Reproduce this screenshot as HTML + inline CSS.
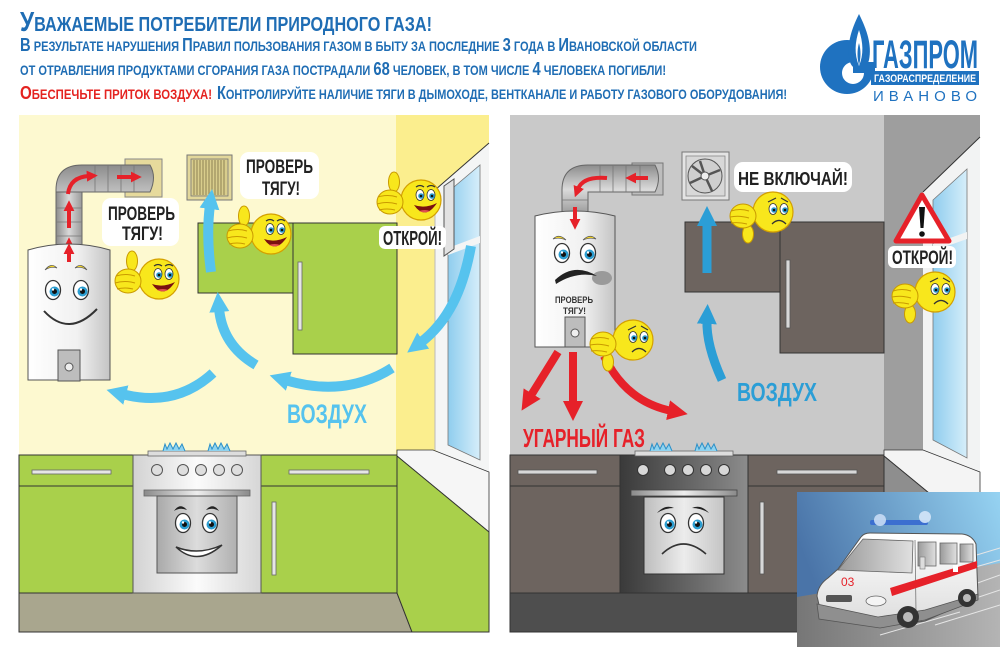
<!DOCTYPE html>
<html><head><meta charset="utf-8"><style>
html,body{margin:0;padding:0;background:#fff;}
svg{display:block;}
text{font-family:"Liberation Sans Narrow","Liberation Sans","DejaVu Sans",sans-serif;font-weight:bold;}
</style></head><body>
<svg width="1000" height="647" viewBox="0 0 1000 647" xmlns="http://www.w3.org/2000/svg">
<defs>
<linearGradient id="gBoil" x1="0" x2="1" y1="0" y2="0"><stop offset="0" stop-color="#fff"/><stop offset="0.6" stop-color="#f1f1f1"/><stop offset="1" stop-color="#c4c4c4"/></linearGradient>
<linearGradient id="gPipeV" x1="0" x2="1"><stop offset="0" stop-color="#8c8c8c"/><stop offset="0.5" stop-color="#d9d9d9"/><stop offset="1" stop-color="#9a9a9a"/></linearGradient>
<linearGradient id="gPipeH" x1="0" x2="0" y1="0" y2="1"><stop offset="0" stop-color="#8c8c8c"/><stop offset="0.5" stop-color="#dadada"/><stop offset="1" stop-color="#9a9a9a"/></linearGradient>
<linearGradient id="gStoveL" x1="0" x2="1"><stop offset="0" stop-color="#d2d2d2"/><stop offset="0.5" stop-color="#fbfbfb"/><stop offset="1" stop-color="#d6d6d6"/></linearGradient>
<linearGradient id="gStoveR" x1="0" x2="1"><stop offset="0" stop-color="#3a3a3a"/><stop offset="0.6" stop-color="#6a6a6a"/><stop offset="1" stop-color="#8c8c8c"/></linearGradient>
<linearGradient id="gDoorL" x1="0" x2="1"><stop offset="0" stop-color="#a9a9a9"/><stop offset="0.5" stop-color="#dcdcdc"/><stop offset="1" stop-color="#b0b0b0"/></linearGradient>
<linearGradient id="gDoorR" x1="0" x2="1"><stop offset="0" stop-color="#bdbdbd"/><stop offset="0.5" stop-color="#ececec"/><stop offset="1" stop-color="#c4c4c4"/></linearGradient>
<linearGradient id="gBar" x1="0" x2="1"><stop offset="0" stop-color="#8a8a8a"/><stop offset="0.5" stop-color="#eeeeee"/><stop offset="1" stop-color="#8a8a8a"/></linearGradient>
<linearGradient id="gGlass" x1="0" x2="1"><stop offset="0" stop-color="#8fcdee"/><stop offset="1" stop-color="#d6eefa"/></linearGradient>
<linearGradient id="gSky" x1="0" x2="1" y1="0.3" y2="0"><stop offset="0" stop-color="#4a74a8"/><stop offset="1" stop-color="#96d3f2"/></linearGradient>
<linearGradient id="gRoad" x1="0" x2="1"><stop offset="0" stop-color="#767676"/><stop offset="1" stop-color="#b4b4b4"/></linearGradient>
<linearGradient id="gVan" x1="0" x2="0" y1="0" y2="1"><stop offset="0" stop-color="#ffffff"/><stop offset="1" stop-color="#dcdcdc"/></linearGradient>
<linearGradient id="gWin" x1="0" x2="1"><stop offset="0" stop-color="#9a9a9a"/><stop offset="1" stop-color="#e0e0e0"/></linearGradient>

<marker id="mbL" viewBox="0 0 10 10" refX="2" refY="5" markerWidth="20" markerHeight="22" markerUnits="userSpaceOnUse" orient="auto"><path d="M0,0 L10,5 L0,10 z" fill="#56c3ee"/></marker>
<marker id="mbD" viewBox="0 0 10 10" refX="2" refY="5" markerWidth="20" markerHeight="22" markerUnits="userSpaceOnUse" orient="auto"><path d="M0,0 L10,5 L0,10 z" fill="#2b9ed6"/></marker>
<marker id="mR" viewBox="0 0 10 10" refX="2" refY="5" markerWidth="20" markerHeight="22" markerUnits="userSpaceOnUse" orient="auto"><path d="M0,0 L10,5 L0,10 z" fill="#e62129"/></marker>
<marker id="mRs" viewBox="0 0 10 10" refX="2" refY="5" markerWidth="11" markerHeight="12" markerUnits="userSpaceOnUse" orient="auto"><path d="M0,0 L10,5 L0,10 z" fill="#e62129"/></marker>

<g id="eye"><ellipse rx="7.5" ry="9.5" fill="#fff" stroke="#333" stroke-width="1.3"/><circle cx="1.5" cy="1.5" r="5" fill="#2b9dd0"/><circle cx="1.5" cy="1.5" r="2.5" fill="#111"/><circle cx="0" cy="-0.5" r="1.2" fill="#fff"/></g>
<g id="seye"><ellipse rx="4" ry="5.5" fill="#fff" stroke="#333" stroke-width="0.8"/><circle cx="1" cy="1" r="2.8" fill="#2b9dd0"/><circle cx="1" cy="1" r="1.3" fill="#111"/></g>

<g id="hs">
<circle r="20" fill="#f8e71c" stroke="#d4a000" stroke-width="1.2"/>
<use href="#seye" x="-1" y="-5"/><use href="#seye" x="10" y="-5"/>
<path d="M-5 -13 Q-1 -16 3 -13 M6 -13 Q10 -16 14 -13" stroke="#333" stroke-width="1.2" fill="none"/>
<path d="M-7 5 Q4 21 16 3 Q4 9 -7 5 Z" fill="#7a1010"/>
<path d="M-2 11 Q4 14 9 11 Q4 9 -2 11Z" fill="#e05050"/>
<ellipse cx="-27" cy="-18" rx="5.5" ry="10" fill="#f8e71c" stroke="#c99a00" stroke-width="1"/>
<ellipse cx="-31" cy="2" rx="13" ry="12" fill="#f8e71c" stroke="#c99a00" stroke-width="1"/>
<path d="M-43 -3 Q-33 -6 -24 -3 M-44 4 Q-34 1 -24 4 M-42 10 Q-34 8 -26 10" stroke="#c99a00" stroke-width="1" fill="none"/>
</g>
<g id="ss">
<circle r="20" fill="#f8e71c" stroke="#d4a000" stroke-width="1.2"/>
<use href="#seye" x="0" y="-3"/><use href="#seye" x="11" y="-3"/>
<path d="M-5 -10 L3 -14 M8 -14 L15 -10" stroke="#333" stroke-width="1.2" fill="none"/>
<path d="M-1 12 Q6 5 13 12" stroke="#333" stroke-width="1.3" fill="none"/>
<ellipse cx="-25" cy="22" rx="5.5" ry="9" fill="#f8e71c" stroke="#c99a00" stroke-width="1"/>
<ellipse cx="-30" cy="4" rx="13" ry="12" fill="#f8e71c" stroke="#c99a00" stroke-width="1"/>
<path d="M-42 -1 Q-33 -4 -24 -1 M-43 5 Q-34 3 -24 6 M-42 11 Q-34 10 -26 12" stroke="#c99a00" stroke-width="1" fill="none"/>
</g>
</defs>

<rect width="1000" height="647" fill="#fff"/>

<!-- HEADER -->
<text x="20" y="31" textLength="412" lengthAdjust="spacingAndGlyphs" fill="#1f6db4"><tspan font-size="28">У</tspan><tspan font-size="20">ВАЖАЕМЫЕ ПОТРЕБИТЕЛИ ПРИРОДНОГО ГАЗА!</tspan></text>
<text x="20" y="51" textLength="677" lengthAdjust="spacingAndGlyphs" fill="#1f6db4"><tspan font-size="18">В</tspan><tspan font-size="13.5"> РЕЗУЛЬТАТЕ НАРУШЕНИЯ </tspan><tspan font-size="18">П</tspan><tspan font-size="13.5">РАВИЛ ПОЛЬЗОВАНИЯ ГАЗОМ В БЫТУ ЗА ПОСЛЕДНИЕ </tspan><tspan font-size="18">3</tspan><tspan font-size="13.5"> ГОДА В </tspan><tspan font-size="18">И</tspan><tspan font-size="13.5">ВАНОВСКОЙ ОБЛАСТИ</tspan></text>
<text x="20" y="75" textLength="646" lengthAdjust="spacingAndGlyphs" fill="#1f6db4"><tspan font-size="13.5">ОТ ОТРАВЛЕНИЯ ПРОДУКТАМИ СГОРАНИЯ ГАЗА ПОСТРАДАЛИ </tspan><tspan font-size="18">68</tspan><tspan font-size="13.5"> ЧЕЛОВЕК, В ТОМ ЧИСЛЕ </tspan><tspan font-size="18">4</tspan><tspan font-size="13.5"> ЧЕЛОВЕКА ПОГИБЛИ!</tspan></text>
<text x="20" y="99" textLength="192" lengthAdjust="spacingAndGlyphs" fill="#e42320"><tspan font-size="18">О</tspan><tspan font-size="13.5">БЕСПЕЧЬТЕ ПРИТОК ВОЗДУХА!</tspan></text>
<text x="217" y="99" textLength="570" lengthAdjust="spacingAndGlyphs" fill="#1f6db4"><tspan font-size="18">К</tspan><tspan font-size="13.5">ОНТРОЛИРУЙТЕ НАЛИЧИЕ ТЯГИ В ДЫМОХОДЕ, ВЕНТКАНАЛЕ И РАБОТУ ГАЗОВОГО ОБОРУДОВАНИЯ!</tspan></text>

<!-- LOGO -->
<circle cx="847" cy="67" r="27" fill="#1f72c0"/>
<rect x="858" y="36" width="16" height="28" fill="#fff"/>
<circle cx="853" cy="73" r="11" fill="#fff"/>
<rect x="853" y="62" width="22" height="11" fill="#1f72c0"/>
<path d="M859 14 C851 30 846 46 850 62 C853 72 866 72 869 60 C872 45 867 30 859 14 Z" fill="#1f72c0"/>
<path d="M859 30 C855 42 854 54 859 66 C864 54 863 42 859 30 Z" fill="#fff"/>
<path d="M859 43 C857 50 857 58 859 65 C861 58 861 50 859 43 Z" fill="#1f72c0"/>
<text x="872" y="68" font-size="40" textLength="106" lengthAdjust="spacingAndGlyphs" fill="#1f72c0">ГАЗПРОМ</text>
<rect x="871" y="71" width="108" height="14" fill="#1f72c0"/>
<text x="874" y="82" font-size="11" textLength="102" lengthAdjust="spacingAndGlyphs" fill="#fff">ГАЗОРАСПРЕДЕЛЕНИЕ</text>
<text x="873" y="101" font-size="15" style="font-weight:normal" textLength="104" lengthAdjust="spacing" fill="#1f72c0">ИВАНОВО</text>

<!-- ============ LEFT PANEL ============ -->
<rect x="19" y="115" width="470" height="517" fill="#fdf9d0"/>
<rect x="396" y="115" width="93" height="340" fill="#fbee8e"/>
<polygon points="489,143 435,190 435,450 489,478" fill="#f4f5f5"/>
<line x1="489" y1="143" x2="435" y2="190" stroke="#333" stroke-width="1"/>
<line x1="435" y1="190" x2="435" y2="450" stroke="#bbb" stroke-width="1"/>
<polygon points="448,192 480,165 480,460 448,445" fill="url(#gGlass)" stroke="#777" stroke-width="0.8"/>
<polygon points="448,248 480,236 480,243 448,255" fill="#f4f5f5"/>
<polygon points="444,186 454,179 454,249 444,256" fill="#e2e2e2" stroke="#555" stroke-width="1"/>

<!-- pipe left -->
<rect x="125" y="159" width="37" height="38" fill="#e6da9c" stroke="#888" stroke-width="1"/>
<path d="M56 246 L56 190 Q56 165 82 165 L150 165 Q157 177 150 192 L82 192 L82 246 Z" fill="url(#gPipeH)" stroke="#666" stroke-width="1"/>
<rect x="56" y="192" width="26" height="54" fill="url(#gPipeV)" stroke="#666" stroke-width="1"/>
<path d="M95 165 V192 M108 165 V192 M121 165 V192 M134 165 V192 M56 208 H82 M56 222 H82 M56 236 H82" stroke="#777" stroke-width="0.8"/>
<path d="M69 258 L69 246" stroke="#e62129" stroke-width="4" marker-end="url(#mRs)"/>
<path d="M69 228 L69 209" stroke="#e62129" stroke-width="4" marker-end="url(#mRs)"/>
<path d="M68 194 Q70 177 89 176" stroke="#e62129" stroke-width="4" fill="none" marker-end="url(#mRs)"/>
<path d="M117 177 L133 177" stroke="#e62129" stroke-width="4" marker-end="url(#mRs)"/>

<!-- boiler left -->
<path d="M28 250 Q69 238 110 250 L110 380 L28 380 Z" fill="url(#gBoil)" stroke="#555" stroke-width="1"/>
<path d="M69 262 L69 252" stroke="#e62129" stroke-width="4" marker-end="url(#mRs)"/>
<rect x="58" y="350" width="22" height="31" fill="#bdbdbd" stroke="#555" stroke-width="1"/>
<circle cx="69" cy="367" r="4" fill="#eee" stroke="#555"/>
<path d="M45 270 Q51 262 57 268 Q51 266 45 270Z M75 268 Q81 262 87 270 Q81 266 75 268Z" fill="#f3d52a" stroke="#555" stroke-width="0.7"/>
<use href="#eye" x="53" y="290"/><use href="#eye" x="81" y="290"/>
<path d="M44 311 Q69 338 97 309" stroke="#333" stroke-width="2" fill="none"/>

<!-- vent grille -->
<rect x="187" y="155" width="45" height="45" fill="#e2d79a" stroke="#777" stroke-width="1"/>
<rect x="191" y="159" width="37" height="37" fill="#d9cd8c" stroke="#777" stroke-width="0.8"/>
<path d="M194 160V195 M197 160V195 M200 160V195 M203 160V195 M206 160V195 M209 160V195 M212 160V195 M215 160V195 M218 160V195 M221 160V195 M224 160V195" stroke="#7a6f45" stroke-width="0.8"/>

<!-- upper cabinets -->
<rect x="198" y="223" width="95" height="70" fill="#a9d04b" stroke="#333" stroke-width="1"/>
<rect x="293" y="223" width="104" height="131" fill="#a9d04b" stroke="#333" stroke-width="1"/>
<rect x="298" y="262" width="4" height="68" fill="#e6e6e6" stroke="#666" stroke-width="0.8"/>

<!-- lower left -->
<rect x="19" y="455" width="114" height="138" fill="#a9d04b" stroke="#333" stroke-width="1"/>
<line x1="19" y1="486" x2="133" y2="486" stroke="#333"/>
<rect x="32" y="470" width="79" height="4" fill="#e6e6e6" stroke="#666" stroke-width="0.8"/>
<rect x="261" y="455" width="136" height="138" fill="#a9d04b" stroke="#333" stroke-width="1"/>
<line x1="261" y1="486" x2="397" y2="486" stroke="#333"/>
<rect x="289" y="470" width="80" height="4" fill="#e6e6e6" stroke="#666" stroke-width="0.8"/>
<rect x="272" y="502" width="4" height="73" fill="#e6e6e6" stroke="#666" stroke-width="0.8"/>
<polygon points="19,593 397,593 412,632 19,632" fill="#a9a68e" stroke="#333" stroke-width="1"/>
<polygon points="397,450 433,450 489,472 489,532 397,456" fill="#f6f6f6" stroke="#333" stroke-width="0.8"/>
<polygon points="397,456 489,532 489,632 412,632 397,593" fill="#a9d04b" stroke="#333" stroke-width="1"/>

<!-- stove left -->
<rect x="133" y="455" width="128" height="138" fill="url(#gStoveL)" stroke="#555" stroke-width="1"/>
<rect x="148" y="451" width="98" height="5" fill="#ddd" stroke="#666" stroke-width="0.8"/>
<polyline points="163,451 165,444 167,449 170,443 173,449 176,443 179,449 182,444 185,451" fill="#8fd3ef" stroke="#2a8fc8" stroke-width="1"/>
<polyline points="208,451 210,444 212,449 215,443 218,449 221,443 224,449 227,444 230,451" fill="#8fd3ef" stroke="#2a8fc8" stroke-width="1"/>
<g fill="#dedede" stroke="#555" stroke-width="1"><circle cx="157" cy="470" r="5.5"/><circle cx="183" cy="470" r="5.5"/><circle cx="201" cy="470" r="5.5"/><circle cx="219" cy="470" r="5.5"/><circle cx="237" cy="470" r="5.5"/></g>
<rect x="144" y="490" width="106" height="6" fill="url(#gBar)" stroke="#666" stroke-width="0.8"/>
<rect x="157" y="496" width="80" height="77" fill="url(#gDoorL)" stroke="#555" stroke-width="1"/>
<path d="M174 511 Q180 502 187 510 Q180 507 174 511Z M206 510 Q213 502 219 511 Q213 507 206 510Z" fill="#222"/>
<use href="#eye" x="183" y="523"/><use href="#eye" x="210" y="523"/>
<path d="M176 547 Q197 567 222 545 Q198 556 176 547Z" fill="#fff" stroke="#333" stroke-width="1.5"/>

<!-- blue arrows left -->
<g fill="none" stroke="#56c3ee" stroke-width="10">
<path d="M471 246 C463 290 448 322 420 343" marker-end="url(#mbL)"/>
<path d="M392 368 Q345 398 285 380" marker-end="url(#mbL)"/>
<path d="M256 365 Q222 345 219 308" marker-end="url(#mbL)"/>
<path d="M211 272 Q206 235 210 205" marker-end="url(#mbL)"/>
<path d="M213 373 Q175 408 122 394" marker-end="url(#mbL)"/>
</g>
<text x="287" y="423" font-size="27" textLength="80" lengthAdjust="spacingAndGlyphs" fill="#56c3ee">ВОЗДУХ</text>

<!-- bubbles left -->
<rect x="102" y="198" width="77" height="48" rx="9" fill="#fff"/>
<text x="108" y="220" font-size="19" textLength="67" lengthAdjust="spacingAndGlyphs" fill="#222">ПРОВЕРЬ</text>
<text x="122" y="240" font-size="19" textLength="41" lengthAdjust="spacingAndGlyphs" fill="#222">ТЯГУ!</text>
<rect x="240" y="152" width="79" height="47" rx="9" fill="#fff"/>
<text x="246" y="173" font-size="19" textLength="67" lengthAdjust="spacingAndGlyphs" fill="#222">ПРОВЕРЬ</text>
<text x="262" y="195" font-size="19" textLength="38" lengthAdjust="spacingAndGlyphs" fill="#222">ТЯГУ!</text>
<rect x="379" y="226" width="67" height="23" rx="6" fill="#fff"/>
<text x="383" y="245" font-size="20" textLength="59" lengthAdjust="spacingAndGlyphs" fill="#222">ОТКРОЙ!</text>

<use href="#hs" x="159" y="279"/>
<use href="#hs" x="271" y="234"/>
<use href="#hs" x="421" y="200"/>

<!-- ============ RIGHT PANEL ============ -->
<rect x="510" y="115" width="470" height="517" fill="#c9c9c9"/>
<rect x="884" y="115" width="96" height="340" fill="#9e9e9e"/>
<polygon points="980,137 923,192 923,452 980,478" fill="#f2f3f3"/>
<line x1="980" y1="137" x2="923" y2="192" stroke="#333" stroke-width="1"/>
<polygon points="933,200 967,169 967,458 933,440" fill="url(#gGlass)" stroke="#777" stroke-width="0.8"/>
<polygon points="933,244 967,232 967,239 933,251" fill="#f2f3f3"/>

<!-- pipe right -->
<rect x="632" y="163" width="31" height="32" fill="#bdbdbd" stroke="#777" stroke-width="1"/>
<path d="M562 214 L562 190 Q562 165 588 165 L655 165 Q662 178 655 192 L588 192 L588 214 Z" fill="url(#gPipeH)" stroke="#666" stroke-width="1"/>
<path d="M600 165 V192 M613 165 V192 M626 165 V192 M640 165 V192 M562 200 H588" stroke="#777" stroke-width="0.8"/>
<path d="M648 178 L634 178" stroke="#e62129" stroke-width="4" marker-end="url(#mRs)"/>
<path d="M607 178 Q583 176 578 189" stroke="#e62129" stroke-width="4" fill="none" marker-end="url(#mRs)"/>

<!-- boiler right -->
<path d="M535 216 Q575 206 615 216 L615 347 L535 347 Z" fill="url(#gBoil)" stroke="#555" stroke-width="1"/>
<path d="M575 207 L575 221" stroke="#e62129" stroke-width="4" marker-end="url(#mRs)"/>
<rect x="565" y="317" width="20" height="30" fill="#bdbdbd" stroke="#555" stroke-width="1"/>
<circle cx="575" cy="333" r="4" fill="#eee" stroke="#555"/>
<path d="M553 239 Q559 233 566 240 Q559 237 553 239Z M583 240 Q590 233 596 239 Q590 237 583 240Z" fill="#f3d52a" stroke="#555" stroke-width="0.7"/>
<use href="#eye" x="562" y="253"/><use href="#eye" x="588" y="253"/>
<ellipse cx="602" cy="278" rx="10" ry="7" fill="#9a9a9a"/>
<path d="M555 280 Q574 262 597 276 Q576 271 556 284 Z" fill="#222"/>
<text x="555" y="303" font-size="9" textLength="38" lengthAdjust="spacingAndGlyphs" fill="#333">ПРОВЕРЬ</text>
<text x="563" y="314" font-size="9" textLength="23" lengthAdjust="spacingAndGlyphs" fill="#333">ТЯГУ!</text>

<!-- fan -->
<rect x="682" y="152" width="47" height="48" fill="#e4e4e4" stroke="#777" stroke-width="1"/>
<rect x="686" y="156" width="39" height="40" fill="#d8d8d8" stroke="#888" stroke-width="0.8"/>
<circle cx="705" cy="176" r="17" fill="#cfcfcf" stroke="#555" stroke-width="1"/>
<path d="M705 176 L700 161 M705 176 L720 170 M705 176 L712 191 M705 176 L690 183 M705 176 L692 166" stroke="#555" stroke-width="2.5"/>
<circle cx="705" cy="176" r="4" fill="#eee" stroke="#555"/>

<!-- cabinets right -->
<rect x="685" y="222" width="95" height="70" fill="#6d645f" stroke="#333" stroke-width="1"/>
<rect x="780" y="222" width="104" height="131" fill="#6d645f" stroke="#333" stroke-width="1"/>
<rect x="786" y="260" width="4" height="68" fill="#d8d8d8" stroke="#555" stroke-width="0.8"/>

<!-- lower right -->
<rect x="510" y="455" width="110" height="138" fill="#6d645f" stroke="#333" stroke-width="1"/>
<line x1="510" y1="486" x2="620" y2="486" stroke="#333"/>
<rect x="518" y="470" width="79" height="4" fill="#d8d8d8" stroke="#555" stroke-width="0.8"/>
<rect x="748" y="455" width="136" height="138" fill="#6d645f" stroke="#333" stroke-width="1"/>
<line x1="748" y1="486" x2="884" y2="486" stroke="#333"/>
<rect x="777" y="470" width="80" height="4" fill="#d8d8d8" stroke="#555" stroke-width="0.8"/>
<rect x="760" y="502" width="4" height="72" fill="#d8d8d8" stroke="#555" stroke-width="0.8"/>
<polygon points="510,593 884,593 900,632 510,632" fill="#4e4e4e" stroke="#333" stroke-width="1"/>
<polygon points="884,450 923,450 980,472 980,535 884,456" fill="#f4f4f4" stroke="#333" stroke-width="0.8"/>
<polygon points="884,456 980,535 980,632 900,632 884,593" fill="#8e8e8e" stroke="#333" stroke-width="1"/>

<!-- stove right -->
<rect x="620" y="455" width="128" height="138" fill="url(#gStoveR)" stroke="#333" stroke-width="1"/>
<rect x="635" y="451" width="98" height="5" fill="#ddd" stroke="#666" stroke-width="0.8"/>
<polyline points="650,451 652,444 654,449 657,443 660,449 663,443 666,449 669,444 672,451" fill="#8fd3ef" stroke="#2a8fc8" stroke-width="1"/>
<polyline points="695,451 697,444 699,449 702,443 705,449 708,443 711,449 714,444 717,451" fill="#8fd3ef" stroke="#2a8fc8" stroke-width="1"/>
<g fill="#d8d8d8" stroke="#333" stroke-width="1"><circle cx="643" cy="470" r="5.5"/><circle cx="670" cy="470" r="5.5"/><circle cx="688" cy="470" r="5.5"/><circle cx="706" cy="470" r="5.5"/><circle cx="724" cy="470" r="5.5"/></g>
<rect x="631" y="490" width="106" height="6" fill="url(#gBar)" stroke="#444" stroke-width="0.8"/>
<rect x="644" y="497" width="80" height="77" fill="url(#gDoorR)" stroke="#333" stroke-width="1"/>
<path d="M657 513 Q665 504 674 508 Q665 508 657 513Z M692 508 Q701 504 709 513 Q701 508 692 508Z" fill="#222"/>
<use href="#eye" x="668" y="523"/><use href="#eye" x="696" y="523"/>
<path d="M662 554 Q683 534 706 554" stroke="#333" stroke-width="1.6" fill="none"/>

<!-- red arrows -->
<g fill="none" stroke="#e62129" stroke-width="8">
<path d="M558 352 L530 397" marker-end="url(#mR)"/>
<path d="M573 352 L573 405" marker-end="url(#mR)"/>
<path d="M604 356 Q626 402 672 411" marker-end="url(#mR)"/>
</g>
<text x="523" y="447" font-size="26" textLength="122" lengthAdjust="spacingAndGlyphs" fill="#e62129">УГАРНЫЙ ГАЗ</text>

<!-- blue arrows right -->
<g fill="none" stroke="#2b9ed6" stroke-width="9">
<path d="M707 273 L707 222" marker-end="url(#mbD)"/>
<path d="M722 380 Q706 345 707 320" marker-end="url(#mbD)"/>
</g>
<text x="737" y="401" font-size="26" textLength="80" lengthAdjust="spacingAndGlyphs" fill="#2b9ed6">ВОЗДУХ</text>

<!-- warning -->
<polygon points="922,195 896,241 949,241" fill="#fff" stroke="#e62129" stroke-width="5" stroke-linejoin="round"/>
<path d="M919 207 L925 207 L923.5 228 L920.5 228 Z" fill="#111"/>
<circle cx="922" cy="234" r="2.8" fill="#111"/>

<!-- bubbles right -->
<rect x="734" y="162" width="118" height="30" rx="9" fill="#fff"/>
<text x="738" y="185" font-size="18" textLength="110" lengthAdjust="spacingAndGlyphs" fill="#222">НЕ ВКЛЮЧАЙ!</text>
<rect x="888" y="246" width="68" height="22" rx="6" fill="#fff"/>
<text x="892" y="264" font-size="19" textLength="61" lengthAdjust="spacingAndGlyphs" fill="#222">ОТКРОЙ!</text>

<use href="#ss" x="773" y="212"/>
<use href="#ss" x="633" y="340"/>
<use href="#ss" x="935" y="292"/>

<!-- ambulance inset -->
<rect x="797" y="492" width="203" height="155" fill="url(#gSky)"/>
<polygon points="797,597 1000,563 1000,647 797,647" fill="url(#gRoad)"/>
<path d="M930 600 L1000 575 M940 610 L1000 590 M935 625 L1000 605 M960 560 L1000 548 M965 570 L1000 560 M880 635 L960 612" stroke="#e6e6e6" stroke-width="1"/>
<!-- van body -->
<path d="M817 596 Q818 585 828 578 L838 569 L861 537 Q864 533 870 533 L962 534 Q972 535 976 544 L978 598 L958 606 L925 621 L880 627 L822 618 Z" fill="url(#gVan)" stroke="#555" stroke-width="1"/>
<!-- lower skirt -->
<path d="M817 604 L878 617 L925 610 L978 594 L978 600 L925 620 L880 628 L819 619 Z" fill="#8f8f8f" stroke="#555" stroke-width="0.8"/>
<polygon points="838,570 863,539 913,541 912,573" fill="url(#gWin)" stroke="#666" stroke-width="0.8"/>
<line x1="915" y1="540" x2="916" y2="612" stroke="#777" stroke-width="0.8"/>
<rect x="918" y="542" width="18" height="24" fill="url(#gWin)" stroke="#666" stroke-width="0.8"/>
<rect x="940" y="543" width="17" height="21" fill="url(#gWin)" stroke="#666" stroke-width="0.8"/>
<rect x="960" y="544" width="13" height="18" fill="url(#gWin)" stroke="#666" stroke-width="0.8"/>
<rect x="920" y="557" width="5" height="12" fill="#ddd" stroke="#777" stroke-width="0.6"/>
<polygon points="890,588 977,561 977,568 892,596" fill="#e62129"/>
<rect x="953" y="565" width="5" height="7" fill="#fff"/>
<text x="841" y="586" font-size="12" style="font-weight:normal" fill="#e62129">03</text>
<rect x="826" y="595" width="26" height="7" fill="#555" rx="2"/>
<ellipse cx="876" cy="601" rx="10" ry="5" fill="#f4f4f4" stroke="#666" stroke-width="0.8"/>
<circle cx="908" cy="617" r="11" fill="#333"/><circle cx="908" cy="617" r="5" fill="#bbb"/>
<circle cx="967" cy="598" r="9" fill="#333"/><circle cx="967" cy="598" r="4" fill="#bbb"/>
<rect x="870" y="520" width="58" height="5" fill="#3c6fd0" rx="2"/>
<circle cx="880" cy="520" r="6" fill="#c8dcf4" opacity="0.9"/>
<circle cx="925" cy="517" r="6" fill="#d4e6f8" opacity="0.9"/>
</svg>
</body></html>
